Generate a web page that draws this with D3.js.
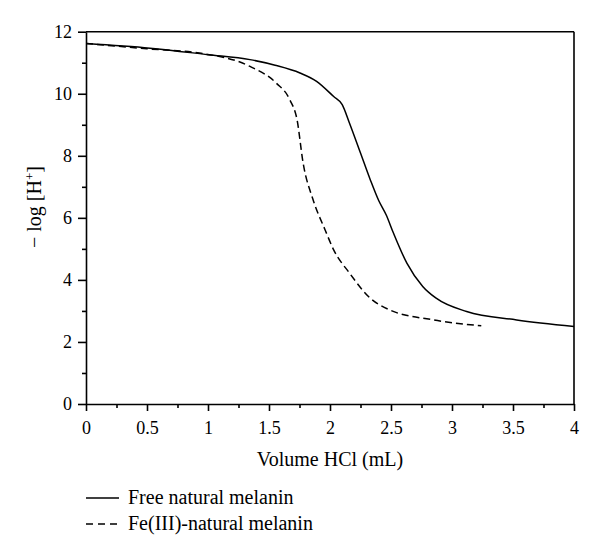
<!DOCTYPE html>
<html>
<head>
<meta charset="utf-8">
<script src="https://d3js.org/d3.v7.min.js"></script>
<style>
  body { margin: 0; background: #fff; }
  svg { display: block; }
  .axis path, .axis line { stroke: #000; stroke-width: 1.6; }
</style>
</head>
<body>
<script>
// Free natural melanin (solid)
const freeVol = [0, 0.525, 1.0, 1.344, 1.55, 1.754, 1.89, 2.03, 2.10, 2.16, 2.25, 2.33, 2.40, 2.46, 2.52, 2.63, 2.76, 2.87, 3.12, 3.53, 4.0];
const freePH = [11.62, 11.47, 11.26, 11.10, 10.92, 10.67, 10.4, 9.91, 9.65, 9.05, 8.09, 7.23, 6.55, 6.1, 5.51, 4.54, 3.79, 3.41, 2.98, 2.71, 2.5];

// Fe(III)-natural melanin (dashed)
const feVol = [0, 0.5, 0.93, 1.344, 1.56, 1.67, 1.73, 1.78, 1.86, 1.96, 2.03, 2.16, 2.33, 2.49, 2.85, 3.24];
const fePH = [11.62, 11.45, 11.31, 10.88, 10.34, 9.81, 9.16, 7.76, 6.6, 5.61, 4.97, 4.22, 3.41, 3.03, 2.71, 2.52];

const xTicks = [0, 0.5, 1, 1.5, 2, 2.5, 3, 3.5, 4];
const xMinor = [0.25, 0.75, 1.25, 1.75, 2.25, 2.75, 3.25, 3.75];
const yTicks = [0, 2, 4, 6, 8, 10, 12];
const yMinor = [1, 3, 5, 7, 9, 11];

const legendNames = ['Free natural melanin', 'Fe(III)-natural melanin'];

const width = 600;
const height = 554;
const serif = '"Liberation Serif", "DejaVu Serif", serif';

let x = d3.scaleLinear().domain([0, 4]).range([86, 574]);
let y = d3.scaleLinear().domain([0, 12]).range([404, 31.7]);

let svg = d3.select('body')
  .append('svg')
  .attr('width', width)
  .attr('height', height)
  .attr('font-family', serif);

// minor ticks first (no labels)
svg.append('g')
  .attr('class', 'axis')
  .attr('transform', 'translate(0,' + y(0) + ')')
  .call(d3.axisBottom(x).tickValues(xMinor).tickSize(4).tickFormat(''))
  .select('.domain').remove();

svg.append('g')
  .attr('class', 'axis')
  .attr('transform', 'translate(' + x(0) + ',0)')
  .call(d3.axisLeft(y).tickValues(yMinor).tickSize(4).tickFormat(''))
  .select('.domain').remove();

svg.append('g')
  .attr('class', 'axis')
  .attr('transform', 'translate(0,' + y(0) + ')')
  .call(d3.axisBottom(x).tickValues(xTicks).tickSize(7).tickPadding(10).tickSizeOuter(0).tickFormat(d3.format('')))
  .attr('font-family', serif)
  .attr('font-size', 18)
  .selectAll('text').attr('fill', '#000');

svg.append('g')
  .attr('class', 'axis')
  .attr('transform', 'translate(' + x(0) + ',0)')
  .call(d3.axisLeft(y).tickValues(yTicks).tickSize(8).tickPadding(6).tickSizeOuter(0))
  .attr('font-family', serif)
  .attr('font-size', 18)
  .selectAll('text').attr('fill', '#000');

// frame top and right
svg.append('line')
  .attr('x1', x(0)).attr('x2', x(4))
  .attr('y1', y(12)).attr('y2', y(12))
  .attr('stroke', '#000').attr('stroke-width', 1.6);

svg.append('line')
  .attr('x1', x(4)).attr('x2', x(4))
  .attr('y1', y(12)).attr('y2', y(0))
  .attr('stroke', '#000').attr('stroke-width', 1.6);

let line = d3.line()
  .x(function (d) { return x(d[0]); })
  .y(function (d) { return y(d[1]); })
  .curve(d3.curveMonotoneX);

svg.append('path')
  .datum(d3.zip(freeVol, freePH))
  .attr('d', line)
  .attr('fill', 'none')
  .attr('stroke', '#000')
  .attr('stroke-width', 1.5);

svg.append('path')
  .datum(d3.zip(feVol, fePH))
  .attr('d', line)
  .attr('fill', 'none')
  .attr('stroke', '#000')
  .attr('stroke-width', 1.5)
  .attr('stroke-dasharray', '7,4');

// axis titles
svg.append('text')
  .attr('x', 330)
  .attr('y', 465.5)
  .attr('text-anchor', 'middle')
  .attr('font-size', 20)
  .text('Volume HCl (mL)');

let yTitle = svg.append('text')
  .attr('transform', 'translate(41,207) rotate(-90)')
  .attr('text-anchor', 'middle')
  .attr('font-size', 20);
yTitle.append('tspan').text('\u2212 log [H');
yTitle.append('tspan').attr('dy', -7).attr('font-size', 13).text('+');
yTitle.append('tspan').attr('dy', 7).text(']');

// legend
let legend = svg.selectAll('.legend')
  .data(legendNames)
  .enter()
  .append('g')
  .attr('class', 'legend')
  .attr('transform', function (d, i) {
    return 'translate(86,' + (504 + i * 26) + ')';
  });

legend.append('line')
  .attr('x1', 0).attr('x2', 33)
  .attr('y1', -6).attr('y2', -6)
  .attr('stroke', '#000')
  .attr('stroke-width', 1.5)
  .attr('stroke-dasharray', function (d, i) { return i ? '7,5' : null; });

legend.append('text')
  .attr('x', 42)
  .attr('font-size', 20)
  .text(function (d) { return d; });
</script>
</body>
</html>
